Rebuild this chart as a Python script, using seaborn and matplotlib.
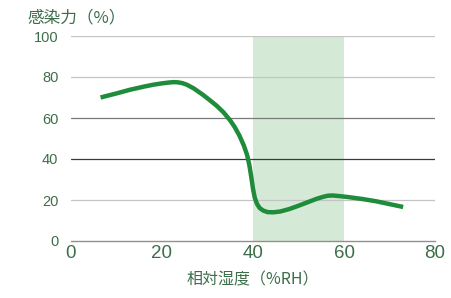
import matplotlib
matplotlib.use("Agg")
import matplotlib.pyplot as plt
import seaborn as sns
import pandas as pd

humidity = [6.5, 10, 13, 16, 18, 20, 21.5, 22.5, 23.5, 24.5, 25.5, 27, 29, 30.5, 32, 33.5, 35,
            36, 37, 38, 38.7, 39.2, 39.6, 40.0, 40.4, 40.9, 41.5, 42.3, 43.2, 44.5, 46, 48,
            50, 52, 54, 55.5, 56.5, 57.5, 59, 61, 64, 67, 70, 73]
infectivity = [70, 72, 73.8, 75.3, 76.2, 76.9, 77.3, 77.5, 77.4, 77.0, 76.2, 74.4, 71.3, 68.7,
               66.0, 62.8, 58.8, 55.5, 51.5, 46.5, 42.0, 37.0, 31.5, 25.5, 21.0, 18.0, 16.0,
               14.8, 14.1, 14.0, 14.4, 15.6, 17.2, 18.9, 20.6, 21.6, 22.1, 22.2, 21.9, 21.4,
               20.5, 19.4, 18.0, 16.6]
x_ticks = [0, 20, 40, 60, 80]
y_ticks = [0, 20, 40, 60, 80, 100]
band = (40, 60)

sns.set_style("white")
plt.rcParams['font.family'] = ['Noto Sans CJK JP', 'DejaVu Sans']

text_color = "#3d6e4a"
fig = plt.figure(figsize=(4.51, 2.98), dpi=100)
ax = fig.add_axes([71/451, 1-241/298, 364/451, 205/298])

ax.axvspan(band[0], band[1], color="#d5ead6", zorder=0, lw=0)
grid_colors = {20: "#c4c4c4", 40: "#3a3a3a", 60: "#7a7a7a", 80: "#c4c4c4", 100: "#c4c4c4"}
for yv, c in grid_colors.items():
    ax.axhline(yv, color=c, lw=0.9, zorder=1)

df = pd.DataFrame({"x": humidity, "y": infectivity})
sns.lineplot(data=df, x="x", y="y", ax=ax, color="#1e8c3a", lw=3.2, sort=False, zorder=3,
             solid_capstyle="butt", solid_joinstyle="round")

ax.set_xlim(0, 80)
ax.set_ylim(0, 100)
ax.set_xticks(x_ticks)
ax.set_yticks(y_ticks)
for s in ["top", "right", "left"]:
    ax.spines[s].set_visible(False)
ax.spines["bottom"].set_color("#909090")
ax.spines["bottom"].set_linewidth(1.0)
ax.tick_params(axis="x", direction="in", length=3, width=0.9, color="#909090",
               labelsize=13.5, labelcolor=text_color, pad=3)
ax.tick_params(axis="y", length=0, labelsize=10.5, labelcolor=text_color, pad=9)
for lab in ax.get_xticklabels() + ax.get_yticklabels():
    lab.set_family(["Liberation Sans", "DejaVu Sans"])
ax.set_xlabel("相対湿度（%RH）", fontsize=11.5, color=text_color, labelpad=7)
ax.set_ylabel("")
fig.text(27/451, 1-18/298, "感染力（%）", fontsize=12, color=text_color, va="center", ha="left")

fig.savefig("out.png", dpi=100)
